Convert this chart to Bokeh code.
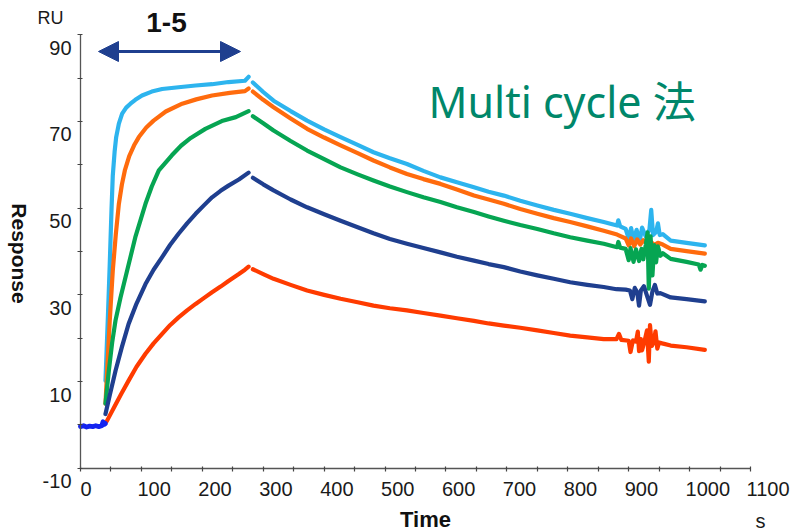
import math
from bokeh.plotting import figure
from bokeh.models import Range1d, FixedTicker, Label, Arrow, NormalHead
from bokeh.embed import file_html
from bokeh.resources import INLINE

# ---------------- data ----------------
x_ticks = [0, 100, 200, 300, 400, 500, 600, 700, 800, 900, 1000, 1100]
x_tick_labels = ["0", "100", "200", "300", "400", "500", "600", "700", "800", "900", "1000", "1100"]
x_minor = [50, 150, 250, 350, 450, 550, 650, 750, 850, 950, 1050]
y_ticks = [-10, 10, 30, 50, 70, 90]
y_tick_labels = ["-10", "10", "30", "50", "70", "90"]
y_minor = [0, 20, 40, 60, 80]

baseline_t = [0, 5, 10, 15, 20, 25, 30, 35, 37, 39, 41]
baseline_v = [-0.4, -0.2, -0.5, -0.3, -0.4, -0.2, -0.4, -0.2, 0.7, 0.1, 0.3]

# series 1 (highest conc.) light blue
c1_assoc_t = [41, 45, 48, 51, 53, 56, 58.6, 63, 68.4, 75, 82, 90, 101, 117, 134, 161, 189, 216, 243, 270, 276]
c1_assoc_v = [10.2, 25, 37, 50, 57.5, 63, 66.4, 69.5, 71.8, 73.2, 74.1, 75.0, 76.0, 76.9, 77.5, 77.9, 78.3, 78.6, 79.1, 79.4, 80.3]
c1_diss_t = [283, 300, 317, 345, 372, 400, 427, 455, 481, 508, 536, 563, 591, 618, 646, 670, 695, 722, 750, 777, 804, 832, 859, 881, 883, 886,
             895, 900, 904, 908, 913, 918, 922, 928, 934, 937, 940, 945, 948, 951, 956, 969, 995, 1025]
c1_diss_v = [79.0, 76.8, 74.8, 72.4, 70.2, 68.2, 66.4, 64.6, 62.9, 61.5, 60.2, 58.6, 57.1, 56.0, 54.8, 53.8, 52.9, 51.7, 50.6, 49.6, 48.7, 47.7, 46.8, 46.0, 47.2, 45.8,
             45.2, 43.0, 45.4, 42.6, 45.0, 42.3, 45.5, 43.5, 45.0, 49.6, 43.8, 44.5, 46.5, 43.8, 44.0, 42.5, 42.0, 41.4]

# series 2 orange
c2_assoc_t = [41, 43.8, 48, 53, 58, 63, 68, 72.8, 80, 88, 95.8, 108, 120, 140, 167, 190, 216, 245, 270, 276]
c2_assoc_v = [4.9, 12.5, 24, 35.6, 44, 51, 55.5, 58.7, 62, 64.5, 66.4, 68.6, 70.2, 72.3, 74.1, 75.1, 76.0, 76.6, 77.0, 77.6]
c2_diss_t = [283, 300, 317, 345, 372, 400, 427, 455, 481, 508, 536, 563, 591, 618, 646, 670, 695, 722, 750, 777, 804, 832, 859, 881,
             895, 900, 904, 909, 914, 919, 924, 930, 936, 942, 948, 956, 969, 995, 1025]
c2_diss_v = [76.9, 75.0, 73.3, 70.7, 68.3, 66.3, 64.5, 62.7, 61.0, 59.4, 57.9, 56.7, 55.6, 54.3, 52.9, 52.0, 51.0, 49.8, 48.7, 47.7, 46.8, 45.8, 44.8, 43.9,
             43.0, 41.4, 43.0, 41.2, 42.8, 41.6, 42.6, 41.8, 42.3, 41.5, 42.0, 41.6, 40.6, 40.1, 39.5]

# series 3 green
c3_assoc_t = [41, 46.5, 52, 57.5, 65.7, 76.6, 90, 106.7, 117, 128.6, 150, 165, 181, 205, 232, 255, 276]
c3_assoc_v = [4.9, 12.5, 19, 24.1, 29.4, 35.6, 43.3, 51.0, 55.0, 58.7, 62.2, 64.4, 66.2, 68.3, 70.1, 71.0, 72.4]
c3_diss_t = [283, 300, 317, 345, 372, 400, 427, 455, 481, 508, 536, 563, 591, 618, 646, 670, 695, 722, 750, 777, 804, 832, 859, 881, 883, 886,
             895, 900, 903, 908, 912, 917, 921, 924, 928, 931, 933, 936, 939, 942, 945, 948, 952, 956, 969, 995, 1015, 1018, 1021, 1025]
c3_diss_v = [71.2, 69.6, 67.9, 65.5, 63.3, 61.3, 59.4, 57.8, 56.4, 55.0, 53.7, 52.5, 51.4, 50.2, 49.1, 48.1, 47.1, 46.1, 45.2, 44.2, 43.3, 42.5, 41.8, 41.0, 42.2, 40.9,
             40.6, 38.0, 40.8, 37.6, 40.5, 37.8, 40.6, 38.2, 41.5, 44.4, 31.4, 43.5, 34.5, 41.5, 37.5, 41.2, 39.0, 39.6, 38.3, 37.6, 37.0, 35.8, 36.9, 36.7]

# series 4 dark blue
c4_assoc_t = [41, 48, 57.5, 68, 79, 92, 106.7, 120, 134, 147, 161, 175, 189, 203, 216, 230, 243, 260, 276]
c4_assoc_v = [2.5, 6.8, 12.5, 18, 23.3, 28, 32.5, 35.8, 38.7, 41.5, 44.1, 46.5, 48.7, 50.7, 52.5, 54.0, 55.2, 56.6, 58.2]
c4_diss_t = [283, 300, 317, 345, 372, 400, 427, 455, 481, 508, 536, 563, 591, 618, 646, 670, 695, 722, 750, 777, 804, 832, 859, 880,
             895, 902, 906, 910, 914, 917, 920, 925, 930, 935, 939, 943, 947, 952, 969, 995, 1025]
c4_diss_v = [57.0, 55.5, 54.1, 52.0, 50.2, 48.6, 47.1, 45.6, 44.2, 42.9, 41.8, 40.8, 39.8, 38.8, 37.9, 37.1, 36.4, 35.4, 34.5, 33.7, 32.9, 32.3, 31.8, 31.3,
             31.2, 31.0, 29.0, 31.6, 30.6, 27.5, 31.0, 32.0, 29.8, 27.7, 30.8, 32.3, 30.3, 30.4, 29.4, 29.0, 28.5]

# series 5 (lowest conc.) red
c5_assoc_t = [43, 55, 67, 79, 92, 106.7, 120, 134, 147, 161, 175, 189, 203, 216, 230, 243, 260, 270, 276]
c5_assoc_v = [0.8, 4.0, 7.2, 10.2, 13.4, 16.4, 18.8, 21.0, 23.0, 24.8, 26.4, 27.9, 29.3, 30.6, 31.9, 33.2, 34.8, 35.8, 36.5]
c5_diss_t = [283, 300, 317, 345, 372, 400, 427, 455, 481, 508, 536, 563, 591, 618, 646, 670, 695, 722, 750, 777, 804, 832, 859,
             880, 884, 888, 900, 903, 907, 912, 915, 917, 920, 922, 926, 930, 933, 935, 938, 941, 944, 947, 950, 955, 969, 995, 1025]
c5_diss_v = [35.9, 34.8, 33.7, 32.3, 31.0, 30.0, 29.1, 28.3, 27.5, 26.9, 26.4, 25.8, 25.2, 24.6, 24.0, 23.4, 22.9, 22.4, 21.8, 21.2, 20.6, 20.2, 19.8,
             19.8, 21.0, 19.6, 19.4, 16.8, 19.5, 19.2, 21.5, 17.0, 19.8, 17.2, 19.3, 21.8, 14.6, 23.0, 18.2, 19.0, 21.6, 17.6, 19.0, 18.8, 18.3, 17.9, 17.3]

series_colors = ["#2db4ee", "#ff6b0d", "#06a552", "#1f3f8f", "#ff3b00"]
baseline_color = "#1424f0"

title_text = "Multi cycle 法"
arrow_label = "1-5"
x_label = "Time"
x_unit = "s"
y_label = "Response"
y_unit = "RU"

# ---------------- layout geometry (pixels) ----------------
W, H = 794, 531
AX_L, AX_R, AX_T, AX_B = 80.0, 750.0, 34.3, 467.7      # where the plot axes sit on the canvas
X0, X1, Y0, Y1 = 0.0, 1100.0, -10.0, 90.0
kx = (AX_R - AX_L) / (X1 - X0)
ky = (AX_B - AX_T) / (Y1 - Y0)

# the frame spans the whole canvas, so texts around the axes are inside it
x_range = Range1d(X0 - AX_L / kx, X1 + (W - AX_R) / kx)
y_range = Range1d(Y0 - (H - AX_B) / ky, Y1 + AX_T / ky)

def dx(px):
    return X0 + (px - AX_L) / kx

def dy(py):
    return Y1 - (py - AX_T) / ky

p = figure(width=W, height=H, output_backend="svg", toolbar_location=None,
           x_range=x_range, y_range=y_range,
           min_border_left=0, min_border_right=0, min_border_top=0, min_border_bottom=0)
p.xgrid.visible = False
p.ygrid.visible = False
p.outline_line_color = None
p.background_fill_color = "white"
p.border_fill_color = "white"

xa, ya = p.xaxis[0], p.yaxis[0]
xa.fixed_location = Y0
ya.fixed_location = X0
xa.bounds = (X0, X1)
ya.bounds = (Y0, Y1)
# tick marks only (labels drawn as annotations, offset as in the reference)
xa.ticker = FixedTicker(ticks=[], minor_ticks=sorted(x_ticks + x_minor))
ya.ticker = FixedTicker(ticks=[], minor_ticks=sorted(y_ticks + y_minor))
for ax in (xa, ya):
    ax.axis_line_color = "#555555"
    ax.axis_line_width = 1.3
    ax.minor_tick_line_color = "#444444"
    ax.minor_tick_line_width = 1.2
    ax.minor_tick_out = 3
    ax.minor_tick_in = 2

def joined(at, av, dt, dv):
    return at + [math.nan] + dt, av + [math.nan] + dv

series = [
    joined(c1_assoc_t, c1_assoc_v, c1_diss_t, c1_diss_v),
    joined(c2_assoc_t, c2_assoc_v, c2_diss_t, c2_diss_v),
    joined(c3_assoc_t, c3_assoc_v, c3_diss_t, c3_diss_v),
    joined(c4_assoc_t, c4_assoc_v, c4_diss_t, c4_diss_v),
    joined(c5_assoc_t, c5_assoc_v, c5_diss_t, c5_diss_v),
]
for (tt, vv), col in zip(series, series_colors):
    p.line(tt, vv, line_color=col, line_width=4.2, line_join="round", line_cap="round")

p.line(baseline_t, baseline_v, line_color=baseline_color, line_width=4.8, line_join="round", line_cap="round")

# injection arrow (1-5)
head_kw = dict(size=20, fill_color="#1f3f8f", line_color="#1f3f8f")
p.add_layout(Arrow(start=NormalHead(**head_kw), end=NormalHead(**head_kw),
                   x_start=dx(98), y_start=dy(51), x_end=dx(240), y_end=dy(51),
                   line_color="#1f3f8f", line_width=3))

def label(x, y, text, size, bold=False, angle=0.0, align="center", x_offset=0, y_offset=0,
          font="Liberation Sans", color="#111111"):
    p.add_layout(Label(x=x, y=y, text=text, text_font=font,
                       text_font_style="bold" if bold else "normal",
                       text_font_size=size, text_align=align, text_baseline="middle",
                       angle=angle, x_offset=x_offset, y_offset=y_offset, text_color=color))

# title
label(dx(428), dy(101), title_text, "43px", align="left", font="Noto Sans, Noto Sans CJK JP", color="#00876a")

# tick labels
for tv, tl in zip(x_ticks, x_tick_labels):
    label(tv, Y0, tl, "20px", align="left", x_offset=-4 if tv else 0, y_offset=-21, color="#1a1a1a")
for tv, tl in zip(y_ticks, y_tick_labels):
    label(X0, tv, tl, "20px", align="right", x_offset=-9, y_offset=-13, color="#1a1a1a")

# axis titles, units, arrow label
label(dx(50), dy(17), y_unit, "18px", color="#1a1a1a")
label(dx(166), dy(22), arrow_label, "28px", bold=True)
label(dx(425), dy(519), x_label, "22px", bold=True)
label(dx(760), dy(520), x_unit, "20px", color="#1a1a1a")
label(dx(19), dy(253), y_label, "21px", bold=True, angle=-math.pi / 2)

open("out.html", "w").write(file_html(p, INLINE))
